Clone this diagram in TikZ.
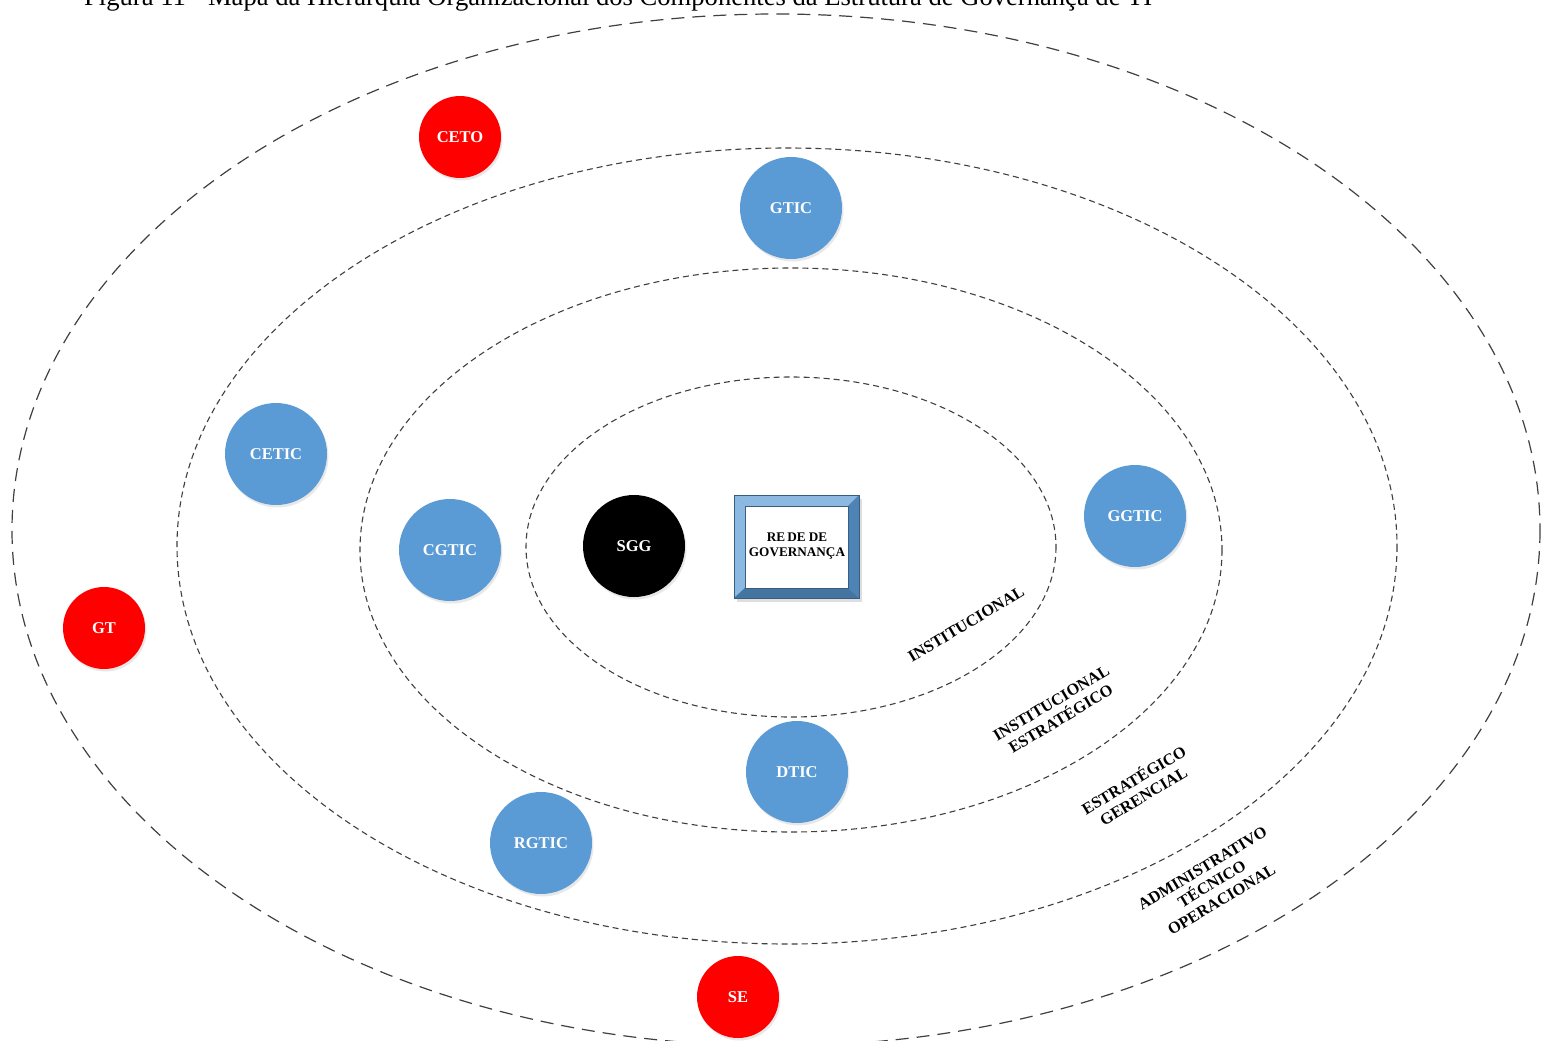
\documentclass[tikz,border=0pt]{standalone}
\usepackage{fontspec}
\setmainfont{Liberation Serif}
\usetikzlibrary{shadows}
\definecolor{cblue}{HTML}{5B9BD5}
\definecolor{cred}{HTML}{FF0000}
\definecolor{dline}{HTML}{404040}
\begin{document}
\begin{tikzpicture}[x=1pt,y=-1pt,
  orbit/.style={draw=dline,line width=1.1pt,dash pattern=on 6pt off 4pt},
  outerorbit/.style={draw=dline,line width=1.2pt,dash pattern=on 13pt off 8pt},
  bubble/.style={circle,minimum size=102pt,inner sep=0pt,fill=cblue,text=white,
     font=\fontsize{16.5}{19}\selectfont\bfseries,
     drop shadow={opacity=0.18,shadow xshift=1.5pt,shadow yshift=-2.5pt}},
  redbubble/.style={bubble,minimum size=82pt,fill=cred},
  blackbubble/.style={bubble,fill=black},
  lvl/.style={font=\fontsize{16.3}{18.5}\selectfont\bfseries,align=center,rotate=31,inner sep=0pt}
]
\useasboundingbox (0,0) rectangle (1542,1041);
\clip (0,0) rectangle (1542,1041);
\fill[white] (0,0) rectangle (1542,1041);
% title (cut off at top)
\node[anchor=base west,inner sep=0pt,font=\fontsize{26.6}{28}\selectfont] (title) at (84,6)
  {Figura 11 - Mapa da Hierarquia Organizacional dos Componentes da Estrutura de Governança de TI};
% orbits
\draw[outerorbit] (776,530) ellipse [x radius=764,y radius=516];
\draw[orbit] (787,546) ellipse [x radius=610,y radius=398];
\draw[orbit] (791,550) ellipse [x radius=431,y radius=282];
\draw[orbit] (791,547) ellipse [x radius=265,y radius=170];
% nodes
\node[redbubble] (ceto) at (460,137) {CETO};
\node[bubble] (gtic) at (791,208) {GTIC};
\node[bubble] (cetic) at (276,454) {CETIC};
\node[bubble] (cgtic) at (450,550) {CGTIC};
\node[blackbubble] (sgg) at (634,546) {SGG};
\node[bubble] (ggtic) at (1135,516) {GGTIC};
\node[redbubble] (gt) at (104,628) {GT};
\node[bubble] (dtic) at (797,772) {DTIC};
\node[bubble] (rgtic) at (541,843) {RGTIC};
\node[redbubble] (se) at (738,997) {SE};
% rede de governanca frame
\fill[black!25,opacity=0.5] (737,499) rectangle (862,602);
\fill[cblue] (734,495) rectangle (859,598);
\fill[cblue!70!white] (734,495) -- (859,495) -- (848,506) -- (745,506) -- cycle;
\fill[cblue!70!white] (734,495) -- (745,506) -- (745,588) -- (734,598) -- cycle;
\fill[cblue!75!black] (859,598) -- (734,598) -- (745,588) -- (848,588) -- cycle;
\fill[cblue!85!black] (859,598) -- (859,495) -- (848,506) -- (848,588) -- cycle;
\draw[cblue!60!black,line width=0.8pt] (734,495) rectangle (859,598);
\draw[cblue!60!black,line width=0.6pt,fill=white] (745,506) rectangle (848,588);
\node[font=\fontsize{13.2}{15}\selectfont\bfseries,align=center,inner sep=0pt] (rede) at (797,546)
  {RE\,DE DE\\GOVERNANÇA};
% level labels
\node[lvl] (l1) at (966,624) {INSTITUCIONAL};
\node[lvl] (l2) at (1056,711) {INSTITUCIONAL\\ESTRATÉGICO};
\node[lvl] (l3) at (1138,787) {ESTRATÉGICO\\GERENCIAL};
\node[lvl] (l4) at (1212,884) {ADMINISTRATIVO\\TÉCNICO\\OPERACIONAL};
\end{tikzpicture}
\end{document}
